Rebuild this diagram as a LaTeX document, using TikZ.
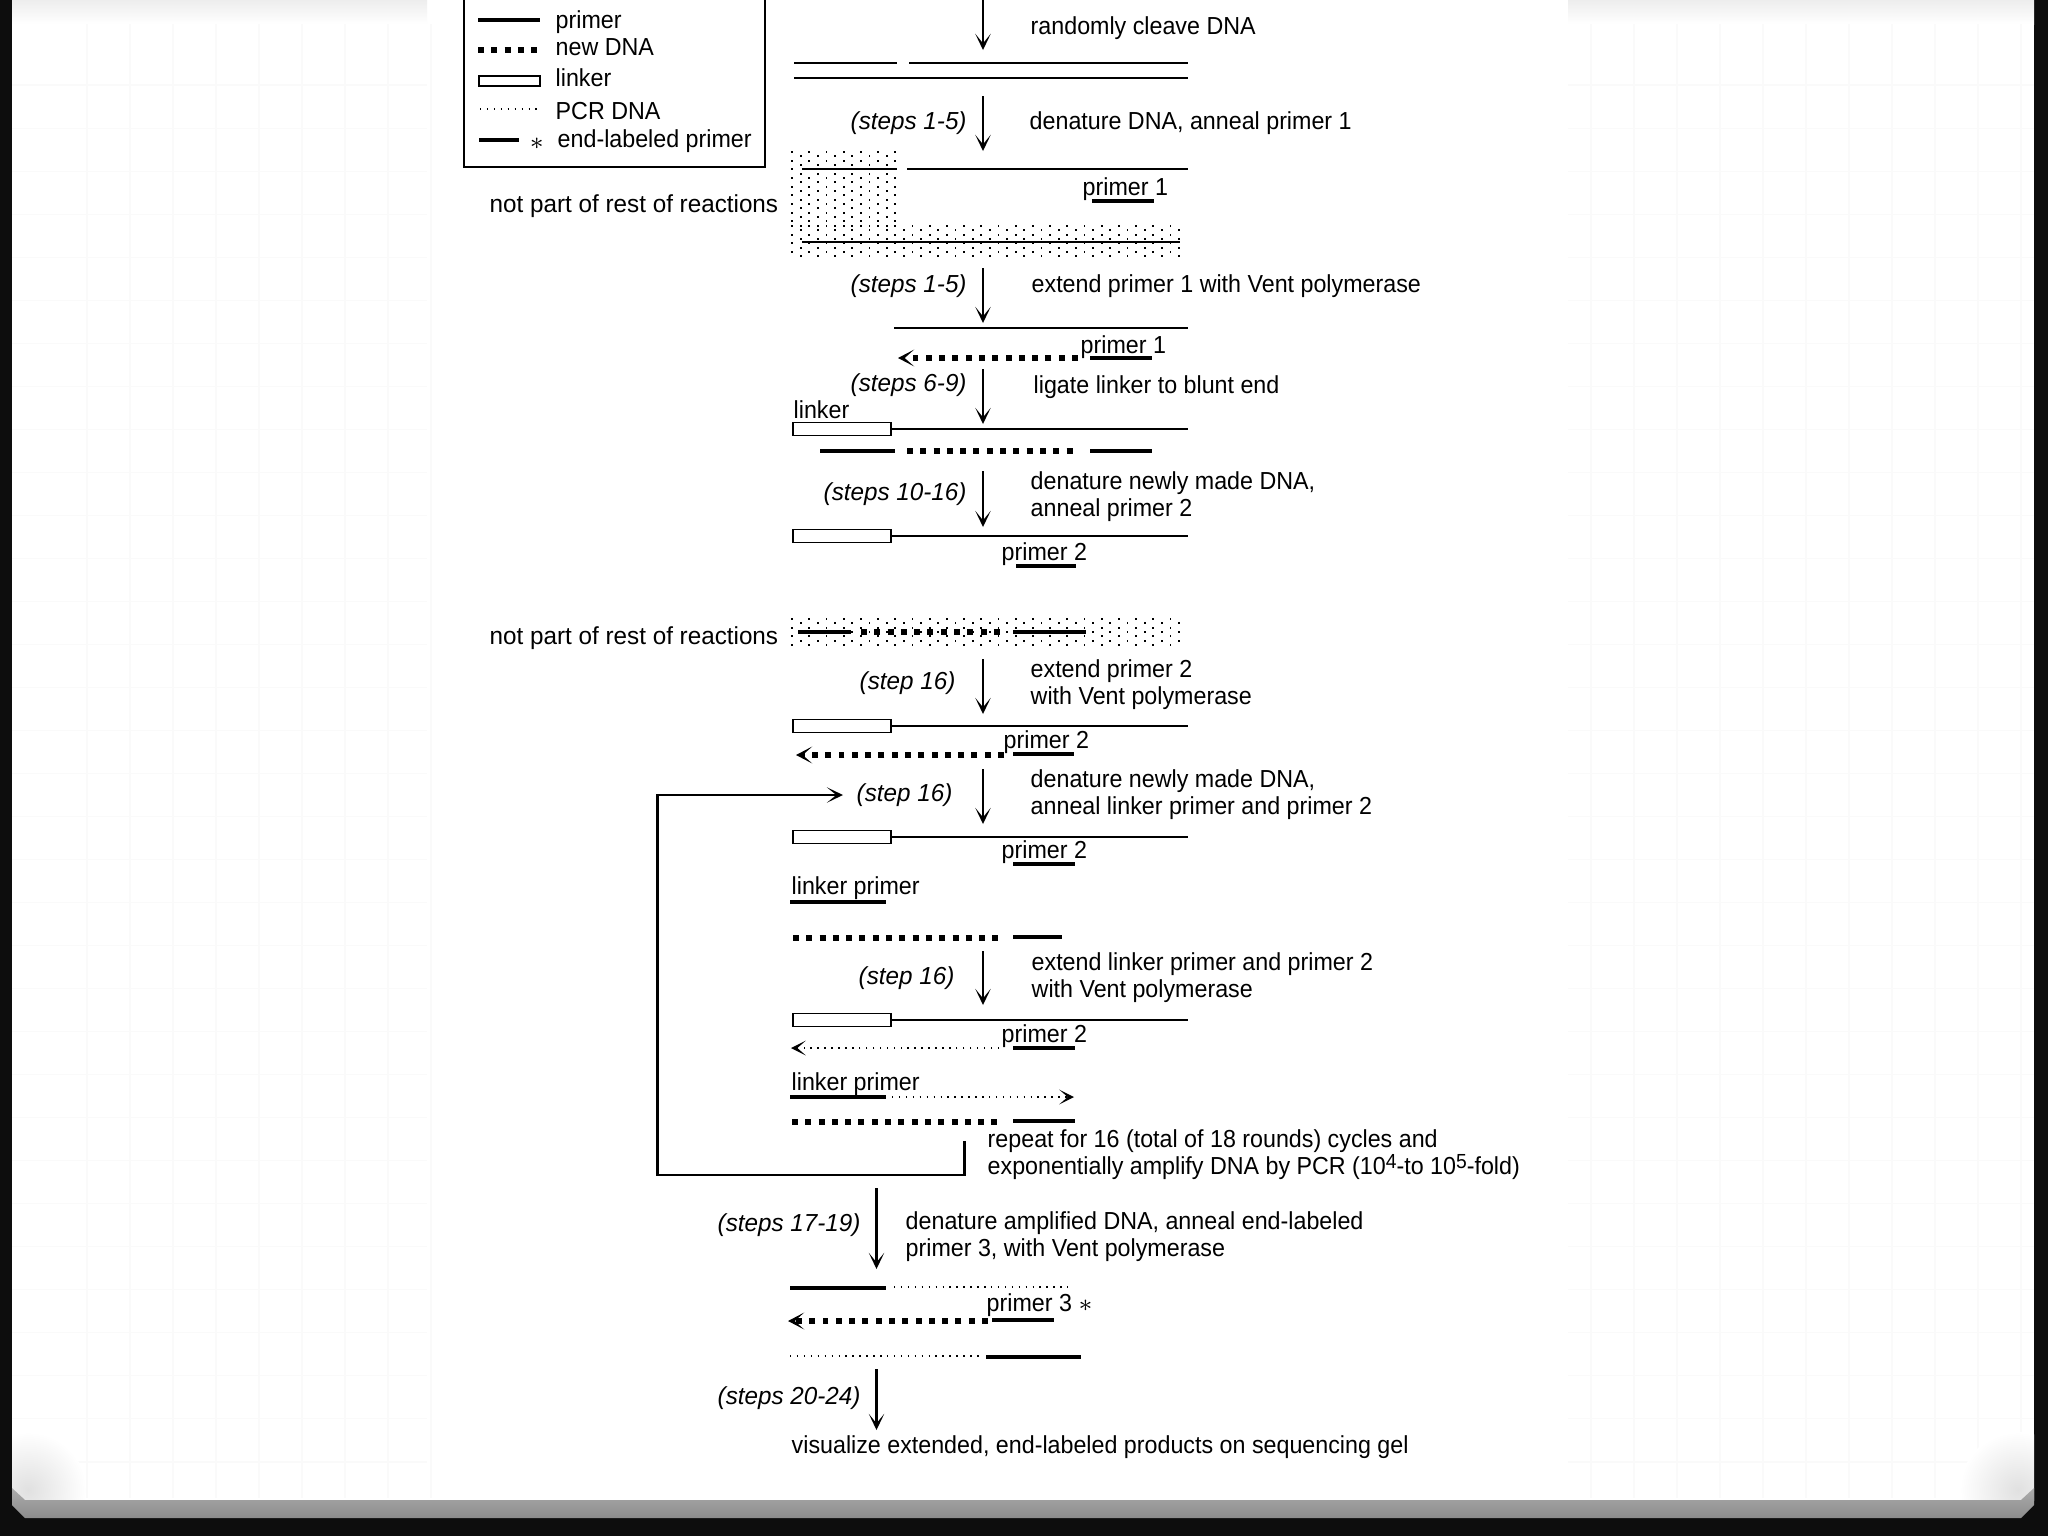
\documentclass[tikz,border=0pt]{standalone}
\usepackage{fontspec}
\setmainfont[FakeStretch=0.945]{Liberation Sans}
\newfontfamily\widefont[FakeStretch=0.985]{Liberation Sans}
\usetikzlibrary{arrows.meta}

\tikzset{
    txt/.style={font=\fontsize{7pt}{7.7pt}\selectfont, inner sep=0pt, anchor=west, yshift=-0.026cm,
        align=left, text height=4.9pt, text depth=1.5pt},
    txtwo/.style={font=\fontsize{7pt}{7.7pt}\selectfont, inner sep=0pt, anchor=west, yshift=-0.02cm,
        align=left},
    steplabel/.style={txt, font=\fontsize{7pt}{7.7pt}\widefont\itshape},
    steparrow/.style={line width=0.72pt, -{Stealth[length=4.6pt, width=4.4pt, inset=2.7pt]}},
    thinline/.style={line width=0.55pt},
    template/.style={line width=0.8pt},
    primerline/.style={line width=1.15pt},
    newdna/.style={line width=1.45pt, dash pattern=on 1.7pt off 2.08pt},
    pcrdna/.style={line width=0.42pt, dash pattern=on 0.42pt off 1.55pt},
    linkerbox/.style={draw, line width=0.55pt, fill=white, inner sep=0pt, outer sep=0pt,
        minimum width=0.98cm, minimum height=0.13cm},
}

% staggered dots: left, right, top, last row
\newcommand{\stipple}[4]{%
    \foreach \r in {0,...,#4}{
        \pgfmathsetmacro{\rowy}{#3+4.33*\r}
        \pgfmathsetmacro{\off}{mod(\r,2)*8.6}
        \foreach \k in {0,...,23}{
            \pgfmathsetmacro{\dotx}{#1+\off+17.2*\k}
            \ifdim\dotx pt<#2pt
                \fill (\dotx-0.9,\rowy-0.9) rectangle (\dotx+0.9,\rowy+0.9);
            \fi
        }
    }
}
\newcommand{\upnum}[1]{\smash{\raisebox{1.6pt}{\fontsize{5.8pt}{6pt}\selectfont #1}}}

\begin{document}
\begin{tikzpicture}[x=0.01cm, y=-0.01cm]
    \useasboundingbox (0,0) rectangle (2048,1536);

    % slide behind the figure
    \fill[black!95] (0,0) rectangle (2048,1536);
    \fill[white] (12,-1) rectangle (2034,1505);
    \shade[top color=gray!14, bottom color=white] (12,0) rectangle (427,24);
    \shade[top color=gray!14, bottom color=white] (1568,0) rectangle (2034,24);
    \foreach \gx in {0,...,8}
        \draw[gray!4, line width=0.3pt] (87+43*\gx,24) -- (87+43*\gx,1498);
    \foreach \gx in {0,...,10}
        \draw[gray!4, line width=0.3pt] (1591+43*\gx,24) -- (1591+43*\gx,1498);
    \foreach \gy in {0,...,32}{
        \draw[gray!4, line width=0.3pt] (12,85+43.03*\gy) -- (427,85+43.03*\gy);
        \draw[gray!4, line width=0.3pt] (1568,85+43.03*\gy) -- (2034,85+43.03*\gy);
    }
    \begin{scope}
        \clip (12,1420) rectangle (100,1500);
        \shade[inner color=gray!24, outer color=white] (28,1490) circle (58);
    \end{scope}
    \begin{scope}
        \clip (1946,1420) rectangle (2034,1500);
        \shade[inner color=gray!24, outer color=white] (2018,1490) circle (58);
    \end{scope}
    \shade[top color=gray!65, bottom color=gray!90]
        (12,1488) -- (25,1500) -- (2021,1500) -- (2034,1488)
        -- (2034,1505) -- (2021,1518) -- (25,1518) -- (12,1505) -- cycle;

    % legend
    \node[draw, line width=0.65pt, inner sep=0pt, outer sep=0pt,
        minimum width=3.01cm, minimum height=1.87cm] (Legend) at (614.5,73.5) {};
    \draw[primerline] (478,20) -- (540,20);
    \draw[newdna] (478,50) -- (540,50);
    \node[linkerbox, minimum width=0.61cm, minimum height=0.1cm] (LegendLinker) at (509.5,81) {};
    \draw[pcrdna] (480,109) -- (540,109);
    \draw[primerline] (479,140) -- (519,140);
    \node[txt] (LegendStar) at (529,141) {$*$};
    \node[txt] (LegendPrimer) at (555,20) {primer};
    \node[txt] (LegendNew) at (555,47) {new DNA};
    \node[txt] (LegendLink) at (555,78) {linker};
    \node[txt] (LegendPcr) at (555,111) {PCR DNA};
    \node[txt] (LegendEnd) at (557,139) {end-labeled primer};

    % shaded parts
    \stipple{792}{899}{152}{17}
    \stipple{792}{1182}{226}{7}
    \stipple{792}{1182}{619}{6}

    % arrows between the steps
    \foreach \name/\xpos/\ytop/\ybot in {Down1/983/-5/50, Down2/983/96/151, Down3/983/268/323,
        Down4/983/369/424, Down5/983/471/527, Down6/983/659/714, Down7/983/769/824,
        Down8/983/951/1005, Down9/876.5/1188/1269, Down10/876.5/1369/1430}{
        \coordinate (\name a) at (\xpos,\ytop);
        \coordinate (\name b) at (\xpos,\ybot);
        \draw[steparrow] (\name a) -- (\name b);
    }

    \foreach \name/\xpos/\ypos/\lab in {StepA/850/121/(steps 1-5), StepB/850/284/(steps 1-5),
        StepC/850/383/(steps 6-9), StepD/823/492/(steps 10-16), StepE/859/681/(step 16),
        StepF/856/793/(step 16), StepG/858/976/(step 16), StepH/717/1223/(steps 17-19),
        StepI/717/1396/(steps 20-24)}{
        \node[steplabel] (\name) at (\xpos,\ypos) {\lab};
    }

    % long labels
    \node[txt] (Cleave) at (1030,26) {randomly cleave DNA};
    \node[txt] (Anneal1) at (1029,121) {denature DNA, anneal primer 1};
    \node[txt] (Extend1) at (1031,284) {extend primer 1 with Vent polymerase};
    \node[txt] (Ligate) at (1033,385) {ligate linker to blunt end};
    \node[txtwo] (Anneal2) at (1030,494.5) {denature newly made DNA,\\anneal primer 2};
    \node[txtwo] (Extend2) at (1030,682.5) {extend primer 2\\with Vent polymerase};
    \node[txtwo] (Anneal3) at (1030,792.5) {denature newly made DNA,\\anneal linker primer and primer 2};
    \node[txtwo] (Extend3) at (1031,975.5) {extend linker primer and primer 2\\with Vent polymerase};
    \node[txtwo] (Repeat) at (987,1152.5) {repeat for 16 (total of 18 rounds) cycles and\\
        exponentially amplify DNA by PCR (10\upnum{4}-to 10\upnum{5}-fold)};
    \node[txtwo] (Anneal4) at (905,1234.5) {denature amplified DNA, anneal end-labeled\\primer 3, with Vent polymerase};
    \node[txt] (Visualize) at (791,1445) {visualize extended, end-labeled products on sequencing gel};
    \node[txt, font=\fontsize{7pt}{7.7pt}\widefont] (NotPartA) at (489,204) {not part of rest of reactions};
    \node[txt, font=\fontsize{7pt}{7.7pt}\widefont] (NotPartB) at (489,636) {not part of rest of reactions};

    % strand labels
    \foreach \name/\xpos/\ypos/\lab in {PrimerA/1082/187/primer 1, PrimerB/1080/345/primer 1,
        LinkerLab/793/410/linker, PrimerC/1001/552/primer 2, PrimerD/1003/740/primer 2,
        PrimerE/1001/850/primer 2, LinkerPrimerA/791/886/linker primer,
        PrimerF/1001/1034/primer 2, LinkerPrimerB/791/1082/linker primer}{
        \node[txt] (\name) at (\xpos,\ypos) {\lab};
    }
    \node[txt] (PrimerG) at (986,1303) {primer 3 $*$};

    % plain template strands
    \draw[thinline] (794,63) -- (897,63);
    \draw[thinline] (909,63) -- (1188,63);
    \draw[template] (794,78) -- (1188,78);
    \draw[thinline] (802,169) -- (897,169);
    \draw[thinline] (907,169) -- (1188,169);
    \draw[template] (802,242) -- (1180,242);
    \draw[thinline] (894,328) -- (1188,328);

    % linker with its strand
    \foreach \name/\ypos in {LinkerA/429, LinkerB/536, LinkerC/726, LinkerD/837, LinkerE/1020}{
        \node[linkerbox] (\name) at (842,\ypos) {};
        \coordinate (\name end) at (1188,\ypos);
        \draw[thinline] (\name.east) -- (\name end);
    }

    % primers
    \foreach \xa/\xb/\ypos in {1092/1154/201, 1090/1152/358, 820/895/451, 1090/1152/451,
        1016/1076/566, 798/851/632, 1013/1086/632, 1013/1074/754, 1013/1075/864, 790/886/902,
        1013/1062/937, 1013/1075/1048, 790/886/1097, 1013/1075/1121, 790/886/1288,
        992/1054/1320, 986/1081/1357}{
        \draw[primerline] (\xa,\ypos) -- (\xb,\ypos);
    }

    % new DNA
    \foreach \xa/\xb/\ypos in {907/1076/451, 861/1004/632, 793/1003/938, 792/1001/1122}{
        \draw[newdna] (\xa,\ypos) -- (\xb,\ypos);
    }
    \foreach \xa/\xb/\ypos in {1078/898/358, 1004/796/755, 988/788/1321}{
        \draw[newdna, -{Stealth[length=4.6pt, width=4.8pt, inset=2.7pt]}] (\xa,\ypos) -- (\xb,\ypos);
    }

    % PCR DNA
    \draw[pcrdna] (894,1287) -- (1068,1287);
    \draw[pcrdna] (790,1356) -- (982,1356);
    \draw[pcrdna, -{Stealth[length=4.2pt, width=4.2pt, inset=2.4pt]}] (999,1048) -- (791,1048);
    \draw[pcrdna, -{Stealth[length=4.2pt, width=4.2pt, inset=2.4pt]}] (892,1097) -- (1074,1097);

    % repeat loop
    \coordinate (LoopStart) at (964.5,1141);
    \coordinate (LoopLow) at (964.5,1175);
    \coordinate (LoopLeft) at (657.5,1175);
    \coordinate (LoopTop) at (657.5,795);
    \coordinate (LoopEnd) at (843,795);
    \draw[line width=0.6pt, -{Stealth[length=4.6pt, width=4.4pt, inset=2.7pt]}]
        (LoopStart) -- (LoopLow) -- (LoopLeft) -- (LoopTop) -- (LoopEnd);

\end{tikzpicture}
\end{document}
